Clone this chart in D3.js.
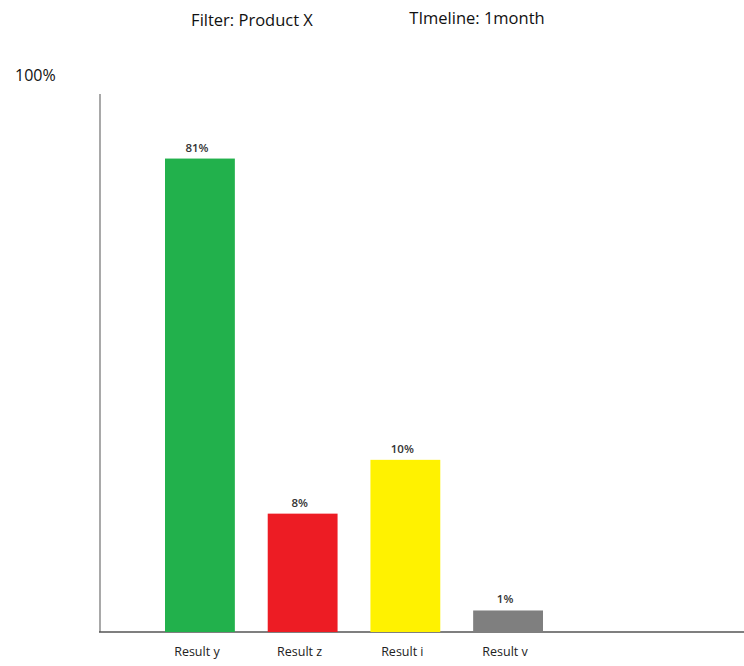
<!DOCTYPE html>
<html>
<head>
<meta charset="utf-8">
<script src="https://cdn.jsdelivr.net/npm/d3@7"></script>
<style>
  body { margin: 0; background: #fff; }
  svg { display: block; font-family: "Open Sans", "Noto Sans", sans-serif; }
</style>
</head>
<body>
<div id="chart"></div>
<script>
// categories and what's printed above each bar
const categories = ["Result y", "Result z", "Result i", "Result v"];
const valueLabels = ["81%", "8%", "10%", "1%"];
// bar heights as drawn in the picture (share of the 0-100% axis)
const drawnValues = [88, 22, 32, 4];
const barColors = ["#22b14c", "#ed1c24", "#fff200", "#7f7f7f"];
const yMaxLabel = "100%";

const width = 744, height = 666;

const svg = d3.select("#chart").append("svg")
  .attr("width", width)
  .attr("height", height);

/*
  scales
*/
let x = d3.scaleBand()
  .domain(categories)
  .range([165, 543])
  .paddingInner(0.32)
  .paddingOuter(0);

let y = d3.scaleLinear()
  .domain([0, 100])
  .range([632, 94]);

// header texts
svg.append("text")
  .attr("x", 252).attr("y", 26)
  .attr("text-anchor", "middle")
  .attr("font-size", 16.5)
  .attr("fill", "#111")
  .text("Filter: Product X");

svg.append("text")
  .attr("x", 477).attr("y", 24)
  .attr("text-anchor", "middle")
  .attr("font-size", 16.5)
  .attr("fill", "#111")
  .text("TImeline: 1month");

svg.append("text")
  .attr("x", 15).attr("y", 81)
  .attr("font-size", 16)
  .attr("fill", "#111")
  .text(yMaxLabel);

// axes (plain lines, no ticks)
svg.append("line")
  .attr("x1", 100).attr("x2", 100)
  .attr("y1", y(100)).attr("y2", y(0))
  .attr("stroke", "#7a7a7a")
  .attr("stroke-width", 1.3);

svg.append("line")
  .attr("x1", 99).attr("x2", width)
  .attr("y1", y(0)).attr("y2", y(0))
  .attr("stroke", "#555")
  .attr("stroke-width", 1.3);

// bars
svg.selectAll(".bar")
  .data(categories)
  .enter()
  .append("rect")
  .attr("class", "bar")
  .attr("x", d => x(d))
  .attr("width", x.bandwidth())
  .attr("y", (d, i) => y(drawnValues[i]))
  .attr("height", (d, i) => y(0) - y(drawnValues[i]))
  .attr("fill", (d, i) => barColors[i]);

// value labels
svg.selectAll(".vlabel")
  .data(categories)
  .enter()
  .append("text")
  .attr("class", "vlabel")
  .attr("x", d => x(d) + x.bandwidth() / 2 - 3)
  .attr("y", (d, i) => y(drawnValues[i]) - 7)
  .attr("text-anchor", "middle")
  .attr("font-size", 11.5)
  .attr("font-weight", 600)
  .attr("fill", "#333")
  .text((d, i) => valueLabels[i]);

// category labels
svg.selectAll(".clabel")
  .data(categories)
  .enter()
  .append("text")
  .attr("class", "clabel")
  .attr("x", d => x(d) + x.bandwidth() / 2 - 3)
  .attr("y", 656)
  .attr("text-anchor", "middle")
  .attr("font-size", 12.5)
  .attr("font-weight", 500)
  .attr("fill", "#222")
  .text(d => d);
</script>
</body>
</html>
